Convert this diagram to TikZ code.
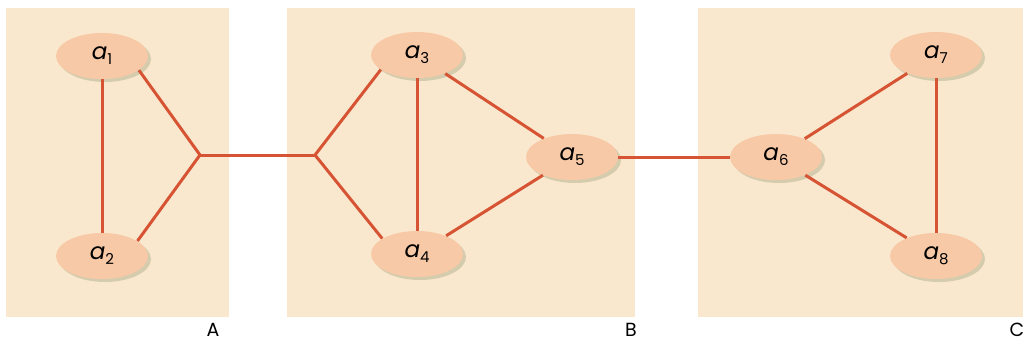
\documentclass[tikz,border=0pt]{standalone}
\usepackage{fontspec}
\setmainfont{Poppins}
\usepackage{tikz}
\usetikzlibrary{shapes,shadows,positioning,calc}

\definecolor{panelbg}{RGB}{250,232,206}
\definecolor{nodefill}{RGB}{248,201,166}
\definecolor{edgecol}{RGB}{214,84,52}
\definecolor{shadowcol}{RGB}{170,172,134}

% vertex name with a lowered upright index
\newcommand{\vname}[1]{a\raisebox{-0.4ex}{\fontsize{7.5}{9}\selectfont\upshape #1}}

\begin{document}
\begin{tikzpicture}[
			x = 0.5pt, y = -0.5pt,
			vert/.style = {ellipse, fill=nodefill, minimum width=46pt, minimum height=23pt, inner sep=0pt,
				font=\fontsize{11.5}{13}\selectfont\itshape,
				drop shadow={fill=shadowcol, opacity=0.45, shadow xshift=1.5pt, shadow yshift=-1.5pt}},
			link/.style = {draw=edgecol, line width=1.5pt},
			panel/.style = {fill=panelbg},
			tag/.style = {font=\fontsize{9.5}{11}\selectfont}
		]

			\useasboundingbox (0,0) rectangle (1023,344);

			% the three groups
			\fill[panel] (6,8) rectangle (229,317);
			\fill[panel] (287,8) rectangle (635,317);
			\fill[panel] (698,8) rectangle (1023,317);

			\node[tag] (labA) at (213,330) {A};
			\node[tag] (labB) at (631,330) {B};
			\node[tag] (labC) at (1017,330) {C};

			\coordinate (jA) at (200,155);
			\coordinate (jB) at (315,155);

			\node[vert] (a1) at (102,56) {\vname{1}};
			\node[vert] (a2) at (102,256) {\vname{2}};
			\node[vert] (a3) at (417,55) {\vname{3}};
			\node[vert] (a4) at (417,254) {\vname{4}};
			\node[vert] (a5) at (572,157) {\vname{5}};
			\node[vert] (a6) at (776,157) {\vname{6}};
			\node[vert] (a7) at (936,55) {\vname{7}};
			\node[vert] (a8) at (936,256) {\vname{8}};

			\draw[link] (a1.south) -- (a2.north);
			\draw[link] (a1.-21) -- (jA) -- (a2.23);
			\draw[link] (jA) -- (jB);
			\draw[link] (a3.-158) -- (jB) -- (a4.156);
			\draw[link] (a3.south) -- (a4.north);
			\draw[link] (a3) -- (a5);
			\draw[link] (a4) -- (a5);
			\draw[link] (a5) -- (a6);
			\draw[link] (a6) -- (a7);
			\draw[link] (a6) -- (a8);
			\draw[link] (a7.south) -- (a8.north);

		\end{tikzpicture}
\end{document}
